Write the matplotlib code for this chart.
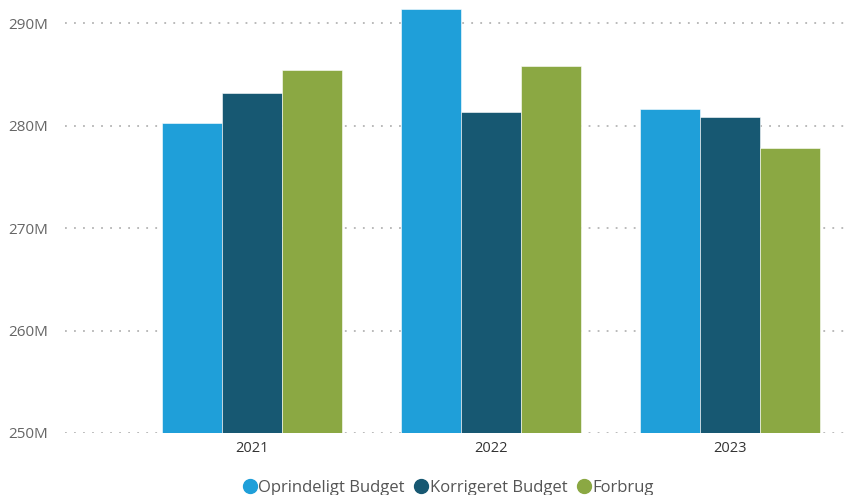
import numpy as np
import matplotlib
matplotlib.use("Agg")
import matplotlib.pyplot as plt
from matplotlib.lines import Line2D

# Data (millions)
years = ["2021", "2022", "2023"]
series_names = ["Oprindeligt Budget", "Korrigeret Budget", "Forbrug"]
oprindeligt = [280.25, 291.4, 281.65]
korrigeret = [283.2, 281.3, 280.85]
forbrug = [285.45, 285.85, 277.8]
colors = ["#1F9FD9", "#175872", "#8BA843"]

plt.rcParams["font.family"] = ["Open Sans", "DejaVu Sans"]

fig = plt.figure(figsize=(8.53, 4.95), dpi=100)
ax = fig.add_axes([65 / 853, 1 - 433 / 495, 785 / 853, 433 / 495])

x = np.arange(len(years))
width = 0.252
for i, (vals, c) in enumerate(zip([oprindeligt, korrigeret, forbrug], colors)):
    ax.bar(x + (i - 1) * width, np.array(vals) - 250, width, bottom=250,
           color=c, edgecolor="white", linewidth=0.4, zorder=3)

ax.set_ylim(250, 250 + 433 / 10.24)
ax.set_xlim(-0.782, 2.502)
ax.set_yticks([250, 260, 270, 280, 290])
ax.set_yticklabels([f"{v}M" for v in [250, 260, 270, 280, 290]])
ax.set_xticks(x)
ax.set_xticklabels(years)

ax.yaxis.grid(True, color="#B4B4B4", linestyle=(0, (1, 4)), linewidth=1.3, zorder=0)
ax.xaxis.grid(False)
for s in ax.spines.values():
    s.set_visible(False)
ax.tick_params(axis="y", length=0, pad=12, labelsize=11, labelcolor="#666666")
ax.tick_params(axis="x", length=0, pad=6, labelsize=10.5, labelcolor="#333333")

handles = [Line2D([0], [0], marker="o", linestyle="", markersize=10,
                  markerfacecolor=c, markeredgecolor=c) for c in colors]
fig.legend(handles, series_names, loc="center", bbox_to_anchor=(0.524, 0.014),
           ncol=3, frameon=False, fontsize=12, labelcolor="#555555",
           handletextpad=-0.1, columnspacing=0.4, handlelength=1.2)

fig.savefig("out.png", dpi=100)
